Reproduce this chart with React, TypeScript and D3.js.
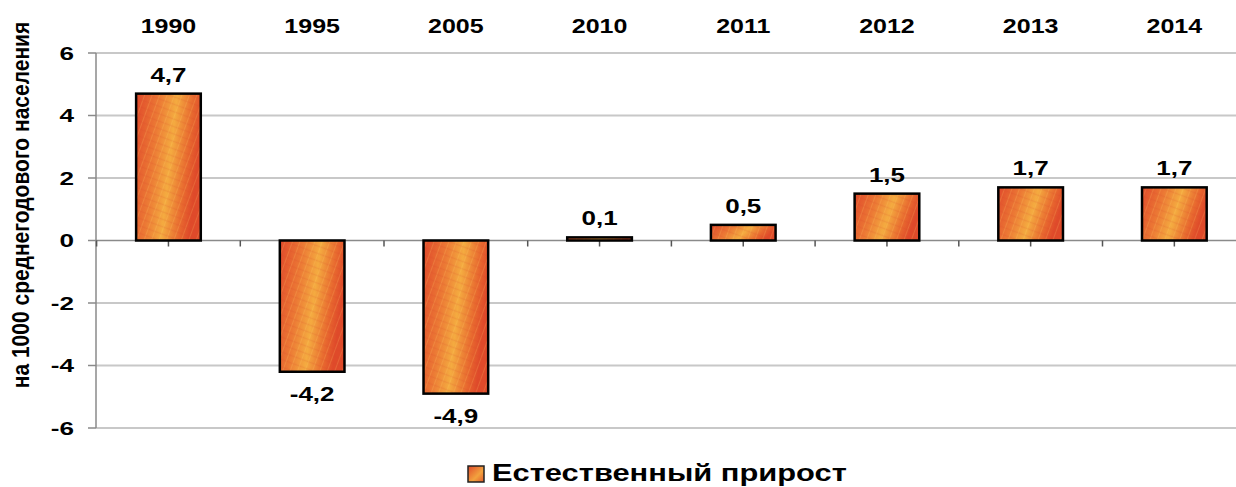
import React from "react";
import * as d3 from "d3";

const years = ["1990", "1995", "2005", "2010", "2011", "2012", "2013", "2014"];
const growth = [4.7, -4.2, -4.9, 0.1, 0.5, 1.5, 1.7, 1.7];
const yTicks = [-6, -4, -2, 0, 2, 4, 6];
const seriesName = "Естественный прирост";
const yTitle = "на 1000 среднегодового населения";

const W = 1236;
const H = 487;
const FONT = "'Liberation Sans', Arial, sans-serif";

const fmt = (v: number) => v.toFixed(1).replace(".", ",");

export default function App() {
  const x0 = 96.6;
  const x = d3
    .scaleBand<string>()
    .domain(years)
    .range([x0, x0 + 8 * 143.7])
    .paddingInner(0.55)
    .paddingOuter(0.275);
  const step = x.step();
  const y = d3.scaleLinear().domain([-6, 6]).range([428, 53]);

  // minor marks on the zero line at every band edge and band centre
  const halfTicks = d3.range(0, 17).map((i) => x0 + (i * step) / 2);

  const label = (
    key: string,
    tx: number,
    ty: number,
    text: string,
    size: number,
    sx: number,
    anchor: "start" | "middle" | "end" = "middle",
    extra = ""
  ) => (
    <text
      key={key}
      transform={`translate(${tx},${ty}) scale(${sx},1)${extra}`}
      textAnchor={anchor}
      fontFamily={FONT}
      fontWeight="bold"
      fontSize={size}
      fill="#000"
    >
      {text}
    </text>
  );

  return (
    <svg
      width={W}
      height={H}
      style={{ position: "absolute", left: 0, top: 0, background: "#fff" }}
    >
      <defs>
        <linearGradient id="barFill" x1="0" y1="0" x2="1" y2="0.25">
          <stop offset="0" stopColor="#e0492b" />
          <stop offset="0.35" stopColor="#ec7a35" />
          <stop offset="0.6" stopColor="#f4ab40" />
          <stop offset="0.85" stopColor="#e8692f" />
          <stop offset="1" stopColor="#df4a2a" />
        </linearGradient>
        <pattern
          id="weave"
          width="7"
          height="7"
          patternUnits="userSpaceOnUse"
          patternTransform="rotate(20)"
        >
          <line x1="0" y1="0" x2="0" y2="7" stroke="#ffd36a" strokeWidth="2" strokeOpacity="0.2" />
          <line x1="0" y1="3.5" x2="7" y2="3.5" stroke="#d8452a" strokeWidth="1.5" strokeOpacity="0.15" />
        </pattern>
        <linearGradient id="legendFill" x1="0" y1="0" x2="1" y2="1">
          <stop offset="0" stopColor="#e0492b" />
          <stop offset="0.6" stopColor="#f2a23e" />
          <stop offset="1" stopColor="#e35a2c" />
        </linearGradient>
      </defs>

      {/* horizontal gridlines */}
      {yTicks.map((t) => (
        <line
          key={`g${t}`}
          x1={96}
          x2={W}
          y1={y(t)}
          y2={y(t)}
          stroke={t === 0 ? "#8a8a8a" : "#c8c8c8"}
          strokeWidth={t === 0 ? 1.5 : 2}
        />
      ))}

      {/* y axis */}
      <line x1={96} x2={96} y1={y(6)} y2={y(-6)} stroke="#8a8a8a" strokeWidth={1.5} />
      {yTicks.map((t) => (
        <line key={`yt${t}`} x1={88} x2={96} y1={y(t)} y2={y(t)} stroke="#8a8a8a" strokeWidth={1.5} />
      ))}
      {yTicks.map((t) => label(`yl${t}`, 74, y(t) + 6.5, String(t), 18, 1.45, "end"))}

      {/* category ticks on the zero line */}
      {halfTicks.map((tx, i) => (
        <line key={`xt${i}`} x1={tx} x2={tx} y1={y(0)} y2={y(0) + 6} stroke="#555" strokeWidth={1.5} />
      ))}

      {/* bars */}
      {years.map((yr, i) => {
        const v = growth[i];
        const top = y(Math.max(v, 0));
        const h = Math.abs(y(v) - y(0));
        return (
          <g key={`b${yr}`}>
            <rect x={x(yr)} y={top} width={x.bandwidth()} height={h} fill="url(#barFill)" />
            <rect x={x(yr)} y={top} width={x.bandwidth()} height={h} fill="url(#weave)" />
            <rect
              x={x(yr)}
              y={top}
              width={x.bandwidth()}
              height={h}
              fill="none"
              stroke="#000"
              strokeWidth={2.5}
            />
          </g>
        );
      })}

      {/* value labels */}
      {years.map((yr, i) => {
        const v = growth[i];
        const cx = (x(yr) as number) + x.bandwidth() / 2;
        const ty = v >= 0 ? y(v) - 12 : y(v) + 29;
        return label(`v${yr}`, cx, ty, fmt(v), 20, 1.3);
      })}

      {/* category labels along the top */}
      {years.map((yr) => label(`c${yr}`, (x(yr) as number) + x.bandwidth() / 2, 33, yr, 20, 1.25))}

      {/* axis title */}
      {label("title", 29, 205, yTitle, 21, 1.13, "middle", " rotate(-90)")}

      {/* legend */}
      <rect x={468} y={466} width={16} height={16} fill="url(#legendFill)" stroke="#222" strokeWidth={1.5} />
      {label("legend", 492, 481, seriesName, 24.5, 1.26, "start")}
    </svg>
  );
}
